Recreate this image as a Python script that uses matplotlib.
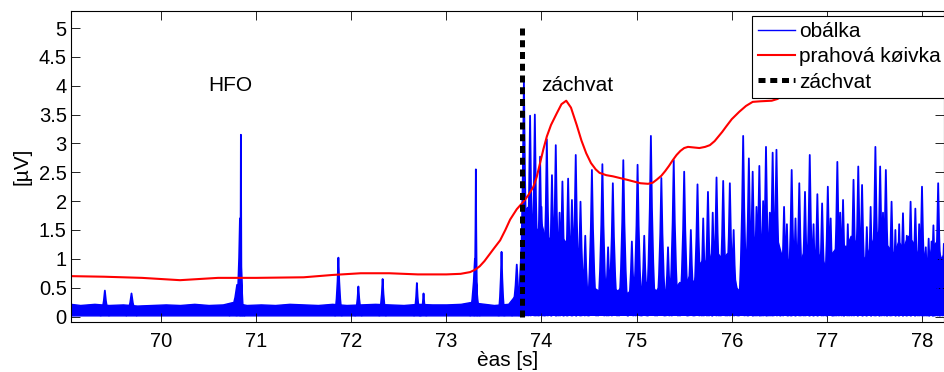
import matplotlib
matplotlib.use("Agg")
import matplotlib.pyplot as plt
import numpy as np
from matplotlib.lines import Line2D

plt.rcParams['font.family'] = ['Liberation Sans', 'DejaVu Sans']

# ---------------- data ----------------
# dense part of the envelope (band): time, lower and upper edge
band_t = [69.05, 69.15, 69.3, 69.45, 69.6, 69.75, 69.9, 70.05, 70.2, 70.35, 70.5, 70.65,
          70.75, 70.9, 71.05, 71.2, 71.35, 71.5, 71.65, 71.8, 71.95, 72.1, 72.25, 72.4,
          72.55, 72.7, 72.85, 73.0, 73.15, 73.25, 73.4, 73.5, 73.65, 73.76,
          73.80, 73.85, 73.90, 73.95, 74.00, 74.05, 74.10, 74.15, 74.20, 74.25, 74.30,
          74.35, 74.40, 74.45, 74.50, 74.55, 74.60, 74.65, 74.70, 74.75, 74.80, 74.85,
          74.90, 74.95, 75.00, 75.05, 75.10, 75.15, 75.20, 75.25, 75.30, 75.35, 75.40,
          75.45, 75.50, 75.55, 75.60, 75.65, 75.70, 75.75, 75.80, 75.85, 75.90, 75.95,
          76.00, 76.05, 76.10, 76.15, 76.20, 76.25, 76.30, 76.35, 76.40, 76.45, 76.50,
          76.55, 76.60, 76.65, 76.70, 76.75, 76.80, 76.85, 76.90, 76.95, 77.00, 77.05,
          77.10, 77.15, 77.20, 77.25, 77.30, 77.35, 77.40, 77.45, 77.50, 77.55, 77.60,
          77.65, 77.70, 77.75, 77.80, 77.85, 77.90, 77.95, 78.00, 78.05, 78.10, 78.15,
          78.20, 78.23]
band_lo = [0.02] * 34 + [0.03] * 90
band_hi = [0.22, 0.20, 0.22, 0.20, 0.21, 0.19, 0.20, 0.21, 0.20, 0.22, 0.20, 0.21,
           0.25, 0.20, 0.21, 0.20, 0.22, 0.21, 0.20, 0.22, 0.20, 0.21, 0.22, 0.21,
           0.20, 0.22, 0.21, 0.21, 0.22, 0.25, 0.22, 0.20, 0.22, 0.45,
           1.80, 1.90, 1.70, 1.50, 1.60, 1.30, 1.40, 1.20, 1.40, 1.30, 1.10,
           1.20, 0.80, 0.40, 0.35, 0.50, 0.45, 0.50, 0.40, 0.50, 0.45, 0.55,
           0.40, 0.50, 0.55, 0.45, 0.60, 0.55, 0.45, 0.55, 0.45, 0.60, 0.50,
           0.60, 0.55, 0.70, 0.60, 0.90, 1.00, 0.90, 1.20, 1.10, 1.00, 1.10,
           0.90, 0.50, 0.40, 1.10, 1.30, 1.40, 1.30, 1.50, 1.40, 1.50, 1.20,
           0.90, 1.00, 1.20, 0.90, 1.10, 1.00, 0.90, 1.10, 1.00, 0.80, 1.10,
           1.20, 1.30, 1.20, 1.40, 1.30, 1.10, 1.00, 1.20, 1.40, 1.50, 1.30,
           1.20, 1.10, 1.30, 1.20, 1.40, 1.30, 1.10, 1.20, 0.90, 1.20, 1.30,
           1.00, 1.10]

# spikes of the envelope: time, peak height, half width
spike_t = [69.41, 69.69, 70.80, 70.83, 70.84, 71.865, 72.075, 72.33, 72.69, 72.76,
           73.30, 73.31, 73.58, 73.74,
           73.815, 73.88, 73.93, 73.985, 74.056, 74.11, 74.15, 74.22, 74.28, 74.32,
           74.36, 74.41, 74.53, 74.64, 74.75, 74.86, 75.01, 75.15, 75.26, 75.39,
           75.50, 75.64, 75.75, 75.84, 75.91, 75.98, 76.12, 76.18, 76.22, 76.29,
           76.36, 76.43, 76.47, 76.55, 76.63, 76.71, 76.77, 76.82, 76.90, 76.95,
           77.01, 77.11, 77.17, 77.28, 77.33, 77.37, 77.42, 77.51, 77.56, 77.62,
           77.68, 77.80, 77.88, 77.93, 78.00, 78.07, 78.12, 78.17, 78.23,
           74.00, 74.19, 74.46, 74.70, 74.95, 75.08, 75.33, 75.57, 75.70, 75.80,
           76.02, 76.26, 76.33, 76.40, 76.58, 76.67, 76.86, 77.04, 77.14, 77.22,
           77.46, 77.59, 77.72, 77.76, 77.84, 77.97, 78.04, 78.10, 78.15]
spike_h = [0.45, 0.40, 0.55, 1.70, 3.15, 1.02, 0.52, 0.65, 0.58, 0.40,
           1.00, 2.55, 1.12, 0.90,
           4.10, 3.48, 3.50, 2.77, 3.07, 2.45, 2.97, 2.34, 2.39, 2.02,
           2.80, 1.99, 2.54, 2.64, 2.31, 2.71, 2.63, 3.13, 2.40, 2.71,
           2.51, 2.29, 2.16, 2.41, 2.35, 2.31, 3.13, 2.74, 2.51, 2.61,
           2.94, 2.84, 2.89, 1.90, 2.54, 2.31, 2.16, 2.80, 2.12, 1.96,
           2.25, 2.68, 2.02, 2.37, 2.60, 2.28, 1.55, 2.94, 2.60, 2.54,
           1.99, 1.79, 1.99, 1.87, 2.25, 1.35, 1.58, 2.31, 1.26,
           1.90, 1.80, 1.40, 1.20, 1.30, 1.40, 1.20, 1.50, 1.70, 1.80,
           1.50, 1.90, 2.00, 1.80, 1.60, 1.70, 1.60, 1.70, 1.80, 1.60,
           1.90, 1.80, 1.50, 1.60, 1.40, 1.60, 1.20, 1.30, 1.20]
spike_w = [0.045, 0.055, 0.08, 0.035, 0.008, 0.035, 0.035, 0.035, 0.03, 0.03,
           0.05, 0.015, 0.03, 0.05] + [0.045] * 59 + [0.04] * 29

# threshold curve
thr_t = [69.05, 69.40, 69.80, 70.00, 70.20, 70.40, 70.60, 71.00, 71.50, 71.80, 72.10,
         72.40, 72.70, 73.00, 73.15, 73.25, 73.30, 73.35, 73.40, 73.45, 73.50, 73.565,
         73.62, 73.67, 73.74, 73.81, 73.86, 73.915, 73.95, 73.985, 74.02, 74.056, 74.10,
         74.16, 74.21, 74.26, 74.31, 74.37, 74.42, 74.47, 74.52, 74.57, 74.61, 74.68,
         74.75, 74.90, 75.04, 75.12, 75.17, 75.21, 75.26, 75.30, 75.34, 75.38, 75.42,
         75.46, 75.50, 75.54, 75.60, 75.66, 75.72, 75.77, 75.82, 75.86, 75.90, 75.94,
         76.00, 76.08, 76.15, 76.22, 76.30, 76.42, 76.48, 76.53, 76.65, 76.90, 77.30,
         77.80, 78.23]
thr_v = [0.70, 0.69, 0.67, 0.65, 0.63, 0.65, 0.67, 0.67, 0.68, 0.72, 0.75,
         0.75, 0.73, 0.73, 0.74, 0.77, 0.81, 0.87, 0.96, 1.07, 1.18, 1.32,
         1.50, 1.68, 1.86, 1.99, 2.10, 2.25, 2.42, 2.66, 2.90, 3.12, 3.32,
         3.52, 3.68, 3.74, 3.62, 3.32, 3.05, 2.83, 2.66, 2.55, 2.49, 2.45,
         2.43, 2.37, 2.31, 2.30, 2.32, 2.37, 2.44, 2.52, 2.61, 2.71, 2.80,
         2.87, 2.92, 2.94, 2.93, 2.92, 2.94, 2.97, 3.04, 3.12, 3.20, 3.29,
         3.42, 3.55, 3.65, 3.72, 3.73, 3.74, 3.77, 3.82, 4.05, 4.35, 4.60,
         4.75, 4.80]

seizure_t = 73.79
seizure_y = [0, 5]

x_ticks = [70, 71, 72, 73, 74, 75, 76, 77, 78]
y_ticks = [0, 0.5, 1, 1.5, 2, 2.5, 3, 3.5, 4, 4.5, 5]
y_ticklabels = ['0', '0.5', '1', '1.5', '2', '2.5', '3', '3.5', '4', '4.5', '5']

# ---------------- drawing ----------------
BLUE = (0, 0, 1)
FS = 15
fig = plt.figure(figsize=(9.44, 3.72), dpi=100)
ax = fig.add_axes([71 / 944, 49.7 / 372, 872.5 / 944, 311.6 / 372])

ax.fill_between(band_t, band_lo, band_hi, color=BLUE, lw=1.0, edgecolor=BLUE)

sx, sy = [], []
for t, h, w in zip(spike_t, spike_h, spike_w):
    xs = [t - w, t - 0.55 * w, t - 0.25 * w, t, t + 0.25 * w, t + 0.55 * w, t + w]
    ys = [0.02, 0.3 * h, 0.6 * h, h, 0.6 * h, 0.3 * h, 0.02]
    ax.fill(xs, ys, color=BLUE, lw=0)
    sx += xs + [np.nan]
    sy += ys + [np.nan]
ax.plot(sx, sy, color=BLUE, lw=1.3)

ax.plot(thr_t, thr_v, color=(1, 0, 0), lw=1.5)
ax.plot([seizure_t, seizure_t], seizure_y, color='k', lw=3.6,
        dashes=(1.4, 0.95), dash_capstyle='butt')

ax.text(70.5, 4.0, 'HFO', fontsize=FS, ha='left', va='center')
ax.text(74.0, 4.0, 'záchvat', fontsize=FS, ha='left', va='center')

ax.set_xlim(69.054, 78.226)
ax.set_ylim(-0.1, 5.3)
ax.set_xticks(x_ticks)
ax.set_xticklabels([str(v) for v in x_ticks])
ax.set_yticks(y_ticks)
ax.set_yticklabels(y_ticklabels)
ax.tick_params(direction='in', length=6.2, width=0.6, top=True, right=True,
               labelsize=14.5, colors='k')
ax.tick_params(axis='x', pad=7)
ax.tick_params(axis='y', pad=3)
for s in ax.spines.values():
    s.set_linewidth(0.8)
    s.set_color('k')

ax.set_xlabel('èas [s]', fontsize=FS, labelpad=0)
ax.set_ylabel('[µV]', fontsize=FS, labelpad=5)

handles = [Line2D([], [], color=BLUE, lw=1.0),
           Line2D([], [], color=(1, 0, 0), lw=1.5),
           Line2D([], [], color='k', lw=3.6, dashes=(1.4, 0.95), dash_capstyle='butt')]
labels = ['obálka', 'prahová køivka', 'záchvat']
leg = ax.legend(handles, labels, loc='upper left', bbox_to_anchor=(751.7 / 944, 1 - 16 / 372),
                bbox_transform=fig.transFigure, fontsize=FS, frameon=True, fancybox=False,
                framealpha=1, edgecolor='k', borderpad=0.3, handlelength=1.8,
                handletextpad=0.17, labelspacing=0.3, borderaxespad=0)
leg.get_frame().set_linewidth(0.8)

fig.savefig('out.png', dpi=100)
